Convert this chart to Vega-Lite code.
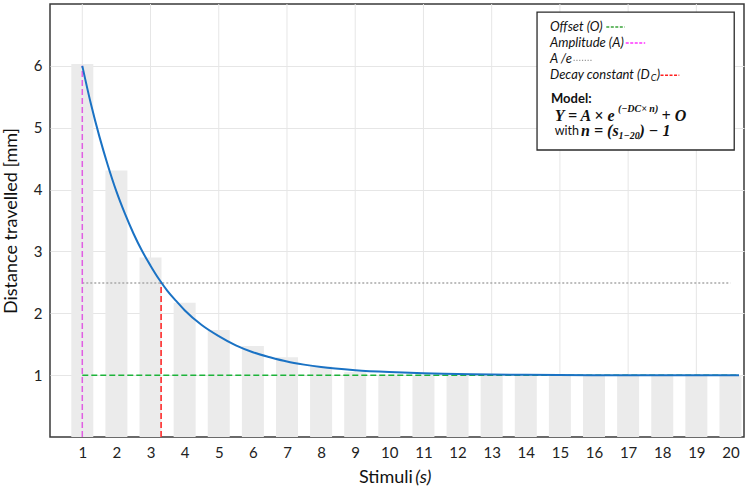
{
  "$schema": "https://vega.github.io/schema/vega-lite/v6.json",
  "width": 694,
  "height": 433,
  "autosize": {"type": "none"},
  "padding": {"left": 50, "top": 4, "right": 5, "bottom": 55},
  "background": "white",
  "config": {
    "view": {"stroke": "#3a3a3a", "strokeWidth": 1.5},
    "font": "Lato",
    "axis": {"labelOverlap": "greedy", "labelSeparation": -20, "labelBound": false, "labelFlush": false}
  },
  "datasets": {
    "bars": [
      {"s": 1, "d": 6.03}, {"s": 2, "d": 4.31}, {"s": 3, "d": 2.9}, {"s": 4, "d": 2.17},
      {"s": 5, "d": 1.73}, {"s": 6, "d": 1.47}, {"s": 7, "d": 1.29}, {"s": 8, "d": 1.14},
      {"s": 9, "d": 1.05}, {"s": 10, "d": 1.01}, {"s": 11, "d": 1.0}, {"s": 12, "d": 1.0},
      {"s": 13, "d": 1.0}, {"s": 14, "d": 1.0}, {"s": 15, "d": 1.0}, {"s": 16, "d": 1.0},
      {"s": 17, "d": 1.0}, {"s": 18, "d": 1.0}, {"s": 19, "d": 1.0}, {"s": 20, "d": 1.0}
    ],
    "curve": [
      {"s": 1, "d": 6.0}, {"s": 1.25, "d": 5.39}, {"s": 1.5, "d": 4.86}, {"s": 1.75, "d": 4.39},
      {"s": 2, "d": 3.97}, {"s": 2.25, "d": 3.61}, {"s": 2.5, "d": 3.29}, {"s": 2.75, "d": 3.01},
      {"s": 3, "d": 2.77}, {"s": 3.25, "d": 2.55}, {"s": 3.5, "d": 2.36}, {"s": 3.75, "d": 2.2},
      {"s": 4, "d": 2.05}, {"s": 4.5, "d": 1.81}, {"s": 5, "d": 1.63}, {"s": 5.5, "d": 1.48},
      {"s": 6, "d": 1.37}, {"s": 6.5, "d": 1.29}, {"s": 7, "d": 1.22}, {"s": 7.5, "d": 1.17},
      {"s": 8, "d": 1.13}, {"s": 9, "d": 1.08}, {"s": 10, "d": 1.05}, {"s": 11, "d": 1.03},
      {"s": 12, "d": 1.02}, {"s": 13, "d": 1.01}, {"s": 14, "d": 1.005}, {"s": 16, "d": 1.0},
      {"s": 18, "d": 1.0}, {"s": 20.25, "d": 1.0}
    ]
  },
  "layer": [
    {
      "data": {"values": [{"g": 1}, {"g": 3}, {"g": 5}, {"g": 7}, {"g": 9}, {"g": 11}, {"g": 13}, {"g": 15}, {"g": 17}, {"g": 19}]},
      "mark": {"type": "rule", "color": "#e6e6e6", "strokeWidth": 1},
      "encoding": {
        "x": {
          "field": "g", "type": "quantitative",
          "scale": {"domain": [0.2, 20.25], "nice": false, "zero": false},
          "axis": {
            "values": [1,2,3,4,5,6,7,8,9,10,11,12,13,14,15,16,17,18,19,20],
            "tickCount": 20,
            "format": "d", "labelOverlap": "greedy", "labelSeparation": -20, "grid": false,
            "title": null, "domain": false, "ticks": false,
            "labelFont": "Lato", "labelFontSize": 15, "labelColor": "#222222", "labelPadding": 8
          }
        }
      }
    },
    {
      "data": {"name": "bars"},
      "mark": {"type": "bar", "size": 22, "color": "#ebebeb"},
      "encoding": {
        "x": {"field": "s", "type": "quantitative"},
        "y": {
          "field": "d", "type": "quantitative",
          "scale": {"domain": [0, 7], "nice": false},
          "axis": {
            "values": [1,2,3,4,5,6], "format": "d", "title": "Distance travelled [mm]",
            "domain": false, "ticks": false,
            "labelFont": "Lato", "labelFontSize": 15, "labelColor": "#222222", "labelPadding": 8,
            "titleFont": "Lato", "titleFontSize": 18, "titleFontWeight": "normal", "titleColor": "#111111",
            "titlePadding": 13, "gridColor": "#e6e6e6"
          }
        }
      }
    },
    {
      "data": {"values": [{"x": 1, "x2": 20, "y": 2.49, "y2": 2.49}]},
      "mark": {"type": "rule", "color": "#a8a8a8", "strokeWidth": 1.3, "strokeDash": [2, 2]},
      "encoding": {"x": {"field": "x", "type": "quantitative"}, "x2": {"field": "x2"}, "y": {"field": "y", "type": "quantitative"}, "y2": {"field": "y2"}}
    },
    {
      "data": {"values": [{"x": 1, "x2": 20.25, "y": 1, "y2": 1}]},
      "mark": {"type": "rule", "color": "#1db33a", "strokeWidth": 1.5, "strokeDash": [6, 3]},
      "encoding": {"x": {"field": "x", "type": "quantitative"}, "x2": {"field": "x2"}, "y": {"field": "y", "type": "quantitative"}, "y2": {"field": "y2"}}
    },
    {
      "data": {"values": [{"x": 1, "x2": 1, "y": 0, "y2": 6}]},
      "mark": {"type": "rule", "color": "#e05ee3", "strokeWidth": 1.5, "strokeDash": [6, 3]},
      "encoding": {"x": {"field": "x", "type": "quantitative"}, "x2": {"field": "x2"}, "y": {"field": "y", "type": "quantitative"}, "y2": {"field": "y2"}}
    },
    {
      "data": {"values": [{"x": 3.31, "x2": 3.31, "y": 0, "y2": 2.49}]},
      "mark": {"type": "rule", "color": "#ff1e1e", "strokeWidth": 1.5, "strokeDash": [6, 3]},
      "encoding": {"x": {"field": "x", "type": "quantitative"}, "x2": {"field": "x2"}, "y": {"field": "y", "type": "quantitative"}, "y2": {"field": "y2"}}
    },
    {
      "data": {"name": "curve"},
      "mark": {"type": "line", "color": "#1a72c4", "strokeWidth": 2, "interpolate": "monotone"},
      "encoding": {"x": {"field": "s", "type": "quantitative"}, "y": {"field": "d", "type": "quantitative"}}
    },
    {
      "data": {"values": [{"x": 14.33, "x2": 20.11, "y": 6.87, "y2": 4.64}]},
      "mark": {"type": "rect", "fill": "white", "stroke": "#2a2a2a", "strokeWidth": 1.3},
      "encoding": {"x": {"field": "x", "type": "quantitative"}, "x2": {"field": "x2"}, "y": {"field": "y", "type": "quantitative"}, "y2": {"field": "y2"}}
    },
    {
      "data": {"values": [
        {"x": 16.36, "x2": 16.9, "y": 6.63, "c": "#3aa43a"},
        {"x": 16.93, "x2": 17.5, "y": 6.37, "c": "#ff33ff"},
        {"x": 17.95, "x2": 18.5, "y": 5.85, "c": "#ff2020"}
      ]},
      "mark": {"type": "rule", "strokeWidth": 1.5, "strokeDash": [3, 1.5]},
      "encoding": {"x": {"field": "x", "type": "quantitative"}, "x2": {"field": "x2"}, "y": {"field": "y", "type": "quantitative"}, "color": {"field": "c", "type": "nominal", "scale": null}}
    },
    {
      "data": {"values": [{"x": 15.4, "x2": 15.93, "y": 6.09}]},
      "mark": {"type": "rule", "strokeWidth": 1.3, "strokeDash": [1.2, 1.6], "color": "#999999"},
      "encoding": {"x": {"field": "x", "type": "quantitative"}, "x2": {"field": "x2"}, "y": {"field": "y", "type": "quantitative"}}
    },
    {
      "data": {"values": [
        {"x": 14.71, "y": 6.63, "t": "Offset (O)"},
        {"x": 14.71, "y": 6.37, "t": "Amplitude (A)"},
        {"x": 14.71, "y": 6.11, "t": "A /e"},
        {"x": 14.71, "y": 5.85, "t": "Decay constant (D"},
        {"x": 17.84, "y": 5.85, "t": ")"}
      ]},
      "mark": {"type": "text", "align": "left", "baseline": "middle", "font": "Lato", "fontSize": 13, "fontStyle": "italic", "color": "#111111"},
      "encoding": {"x": {"field": "x", "type": "quantitative"}, "y": {"field": "y", "type": "quantitative"}, "text": {"field": "t"}}
    },
    {
      "data": {"values": [{"x": 17.66, "y": 5.81, "t": "C"}]},
      "mark": {"type": "text", "align": "left", "baseline": "middle", "font": "Lato", "fontSize": 9, "fontStyle": "italic", "color": "#111111"},
      "encoding": {"x": {"field": "x", "type": "quantitative"}, "y": {"field": "y", "type": "quantitative"}, "text": {"field": "t"}}
    },
    {
      "data": {"values": [{"x": 14.74, "y": 5.46, "t": "Model:"}]},
      "mark": {"type": "text", "align": "left", "baseline": "middle", "font": "Lato", "fontSize": 13, "fontWeight": "bold", "color": "#111111"},
      "encoding": {"x": {"field": "x", "type": "quantitative"}, "y": {"field": "y", "type": "quantitative"}, "text": {"field": "t"}}
    },
    {
      "data": {"values": [{"x": 14.85, "y": 4.95, "t": "with"}]},
      "mark": {"type": "text", "align": "left", "baseline": "middle", "font": "Lato", "fontSize": 12.5, "color": "#111111"},
      "encoding": {"x": {"field": "x", "type": "quantitative"}, "y": {"field": "y", "type": "quantitative"}, "text": {"field": "t"}}
    },
    {
      "data": {"values": [
        {"x": 14.85, "y": 5.19, "t": "Y = A × e"},
        {"x": 17.98, "y": 5.19, "t": "+ O"},
        {"x": 15.62, "y": 4.95, "t": "n = (s"},
        {"x": 17.33, "y": 4.95, "t": ") − 1"}
      ]},
      "mark": {"type": "text", "align": "left", "baseline": "middle", "font": "Liberation Serif", "fontSize": 16, "fontWeight": "bold", "fontStyle": "italic", "color": "#111111"},
      "encoding": {"x": {"field": "x", "type": "quantitative"}, "y": {"field": "y", "type": "quantitative"}, "text": {"field": "t"}}
    },
    {
      "data": {"values": [
        {"x": 16.7, "y": 5.3, "t": "(−DC× n)"},
        {"x": 16.72, "y": 4.87, "t": "1−20"}
      ]},
      "mark": {"type": "text", "align": "left", "baseline": "middle", "font": "Liberation Serif", "fontSize": 10, "fontWeight": "bold", "fontStyle": "italic", "color": "#111111"},
      "encoding": {"x": {"field": "x", "type": "quantitative"}, "y": {"field": "y", "type": "quantitative"}, "text": {"field": "t"}}
    },
    {
      "data": {"values": [{"x": 10.69, "y": -0.663, "t": "Stimuli"}]},
      "mark": {"type": "text", "align": "right", "baseline": "middle", "font": "Lato", "fontSize": 18, "color": "#111111"},
      "encoding": {"x": {"field": "x", "type": "quantitative"}, "y": {"field": "y", "type": "quantitative"}, "text": {"field": "t"}}
    },
    {
      "data": {"values": [{"x": 10.76, "y": -0.663, "t": "(s)"}]},
      "mark": {"type": "text", "align": "left", "baseline": "middle", "font": "Lato", "fontSize": 18, "fontStyle": "italic", "color": "#111111"},
      "encoding": {"x": {"field": "x", "type": "quantitative"}, "y": {"field": "y", "type": "quantitative"}, "text": {"field": "t"}}
    }
  ]
}
